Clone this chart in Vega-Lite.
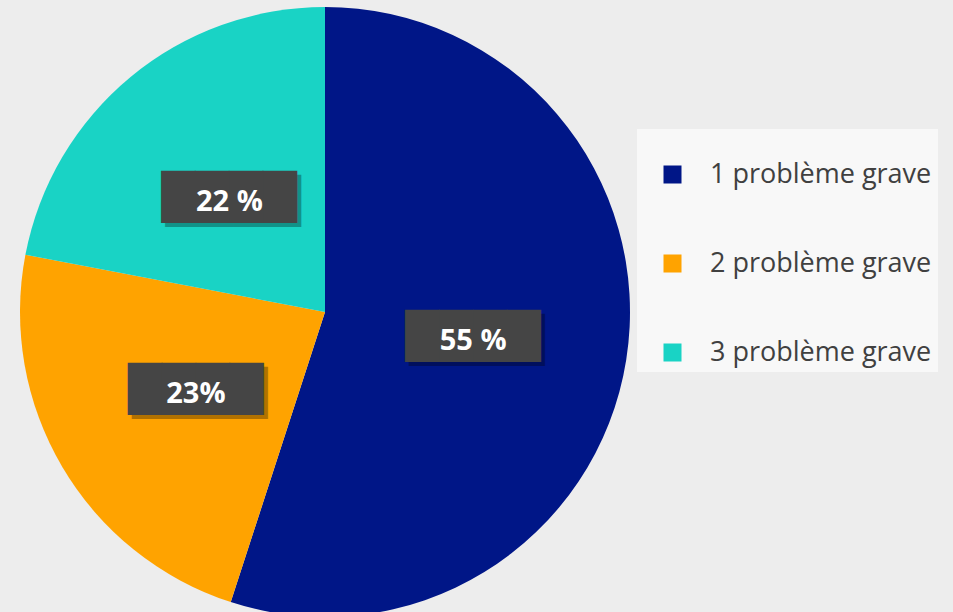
{
  "$schema": "https://vega.github.io/schema/vega-lite/v6.json",
  "width": 650,
  "height": 600,
  "autosize": {"type": "none"},
  "padding": {"left": 0, "top": 12, "right": 303, "bottom": 0},
  "background": "#ededed",
  "config": {"view": {"stroke": null}},
  "data": {
    "values": [
      {"categorie": "1 problème grave", "part": 55, "label": "55 %"},
      {"categorie": "2 problème grave", "part": 23, "label": "23%"},
      {"categorie": "3 problème grave", "part": 22, "label": "22 %"}
    ]
  },
  "encoding": {
    "theta": {"field": "part", "type": "quantitative", "stack": true},
    "order": {"field": "categorie", "type": "nominal"}
  },
  "layer": [
    {
      "mark": {"type": "arc", "radius": 305},
      "encoding": {
        "color": {
          "field": "categorie",
          "type": "nominal",
          "scale": {
            "domain": ["1 problème grave", "2 problème grave", "3 problème grave"],
            "range": ["#001687", "#FFA300", "#19D3C5"]
          },
          "legend": {
            "orient": "none",
            "legendX": 637,
            "legendY": 117,
            "title": " ",
            "titleFontSize": 20,
            "titlePadding": 6,
            "padding": 6,
            "fillColor": "#f8f8f8",
            "symbolType": "square",
            "symbolSize": 324,
            "symbolStrokeWidth": 0,
            "symbolOpacity": 1,
            "symbolOffset": 16,
            "labelFont": "Open Sans",
            "labelFontSize": 27,
            "labelColor": "#404040",
            "labelOffset": 24,
            "rowPadding": 61,
            "labelLimit": 400
          }
        }
      }
    },
    {
      "mark": {"type": "text", "radius": 150, "text": "████", "font": "DejaVu Sans", "fontSize": 44, "baseline": "middle", "align": "center", "opacity": 0.3, "dx": 4, "dy": 7},
      "encoding": {"color": {"value": "#000000"}}
    },
    {
      "mark": {"type": "text", "radius": 150, "text": "████", "font": "DejaVu Sans", "fontSize": 44, "baseline": "middle", "align": "center", "dy": 3},
      "encoding": {"color": {"value": "#454545"}}
    },
    {
      "mark": {"type": "text", "radius": 150, "font": "Open Sans", "fontWeight": "bold", "fontSize": 29, "baseline": "middle", "align": "center", "dy": 6},
      "encoding": {"text": {"field": "label"}, "color": {"value": "#ffffff"}}
    }
  ]
}
